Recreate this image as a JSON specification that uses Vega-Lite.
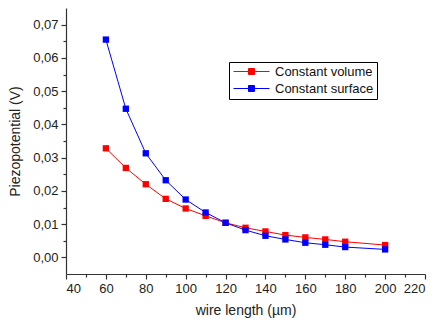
{
  "$schema": "https://vega.github.io/schema/vega-lite/v6.json",
  "width": 359,
  "height": 266,
  "autosize": "none",
  "padding": {"left": 66, "top": 8, "right": 10, "bottom": 52},
  "background": "white",
  "config": {
    "view": {"stroke": null},
    "font": "Liberation Sans",
    "axis": {"grid": false, "domainColor": "#333", "tickColor": "#333", "labelColor": "#222", "titleColor": "#222", "labelFont": "Liberation Sans", "titleFont": "Liberation Sans", "labelFontSize": 13, "titleFontSize": 14, "titleFontWeight": "normal", "domainWidth": 1.2, "tickWidth": 1.2}
  },
  "data": {
    "values": [
      {"length": 60, "value": 0.0328, "series": "Constant volume"},
      {"length": 70, "value": 0.0269, "series": "Constant volume"},
      {"length": 80, "value": 0.0220, "series": "Constant volume"},
      {"length": 90, "value": 0.0176, "series": "Constant volume"},
      {"length": 100, "value": 0.0147, "series": "Constant volume"},
      {"length": 110, "value": 0.0125, "series": "Constant volume"},
      {"length": 120, "value": 0.0104, "series": "Constant volume"},
      {"length": 130, "value": 0.0089, "series": "Constant volume"},
      {"length": 140, "value": 0.0078, "series": "Constant volume"},
      {"length": 150, "value": 0.0067, "series": "Constant volume"},
      {"length": 160, "value": 0.0060, "series": "Constant volume"},
      {"length": 170, "value": 0.0054, "series": "Constant volume"},
      {"length": 180, "value": 0.0047, "series": "Constant volume"},
      {"length": 200, "value": 0.0037, "series": "Constant volume"},
      {"length": 60, "value": 0.0655, "series": "Constant surface"},
      {"length": 70, "value": 0.0447, "series": "Constant surface"},
      {"length": 80, "value": 0.0313, "series": "Constant surface"},
      {"length": 90, "value": 0.0232, "series": "Constant surface"},
      {"length": 100, "value": 0.0174, "series": "Constant surface"},
      {"length": 110, "value": 0.0135, "series": "Constant surface"},
      {"length": 120, "value": 0.0104, "series": "Constant surface"},
      {"length": 130, "value": 0.0082, "series": "Constant surface"},
      {"length": 140, "value": 0.0065, "series": "Constant surface"},
      {"length": 150, "value": 0.0054, "series": "Constant surface"},
      {"length": 160, "value": 0.0044, "series": "Constant surface"},
      {"length": 170, "value": 0.0038, "series": "Constant surface"},
      {"length": 180, "value": 0.0031, "series": "Constant surface"},
      {"length": 200, "value": 0.0024, "series": "Constant surface"}
    ]
  },
  "layer": [
    {
      "mark": {"type": "point", "opacity": 0},
      "encoding": {
        "x": {"field": "length", "type": "quantitative", "scale": {"domain": [40, 220], "nice": false, "zero": false},
              "axis": {"orient": "bottom", "values": [50, 70, 90, 110, 130, 150, 170, 190, 210], "labels": false, "domain": false, "tickSize": 3, "title": null}},
        "y": {"field": "value", "type": "quantitative", "scale": {"domain": [-0.005, 0.075], "nice": false, "zero": false},
              "axis": {"orient": "left", "values": [0.005, 0.015, 0.025, 0.035, 0.045, 0.055, 0.065], "labels": false, "domain": false, "tickSize": 3, "title": null}}
      }
    },
    {
      "mark": {"type": "line", "strokeWidth": 1, "point": {"shape": "square", "filled": true, "size": 40, "opacity": 1}},
      "encoding": {
        "x": {"field": "length", "type": "quantitative", "scale": {"domain": [40, 220], "nice": false, "zero": false},
              "axis": {"orient": "bottom", "values": [40, 60, 80, 100, 120, 140, 160, 180, 200, 220], "tickSize": 5, "labelPadding": 3, "title": "wire length (µm)", "titlePadding": 8}},
        "y": {"field": "value", "type": "quantitative", "scale": {"domain": [-0.005, 0.075], "nice": false, "zero": false},
              "axis": {"orient": "left", "values": [0, 0.01, 0.02, 0.03, 0.04, 0.05, 0.06, 0.07], "tickSize": 5, "labelPadding": 3, "labelExpr": "replace(format(datum.value, '.2f'), '.', ',')", "title": "Piezopotential (V)", "titlePadding": 10}},
        "color": {"field": "series", "type": "nominal",
                  "scale": {"domain": ["Constant volume", "Constant surface"], "range": ["#ff0000", "#0000ff"]},
                  "legend": {"title": null, "orient": "none", "legendX": 163, "legendY": 54, "strokeColor": "#000", "fillColor": "white", "padding": 3, "labelFontSize": 13, "labelColor": "#111", "labelFont": "Liberation Sans",
                             "symbolType": "M-3,0H-0.5M0.5,0H3M-0.5,-0.5H0.5V0.5H-0.5Z", "symbolSize": 144, "symbolOffset": 13, "symbolStrokeWidth": 1, "rowPadding": 3, "labelOffset": 17,
                             "encode": {"symbols": {"update": {"fill": {"scale": "color", "field": "value"}, "opacity": {"value": 1}}}}}}
      }
    }
  ],
  "resolve": {"axis": {"x": "independent", "y": "independent"}}
}
